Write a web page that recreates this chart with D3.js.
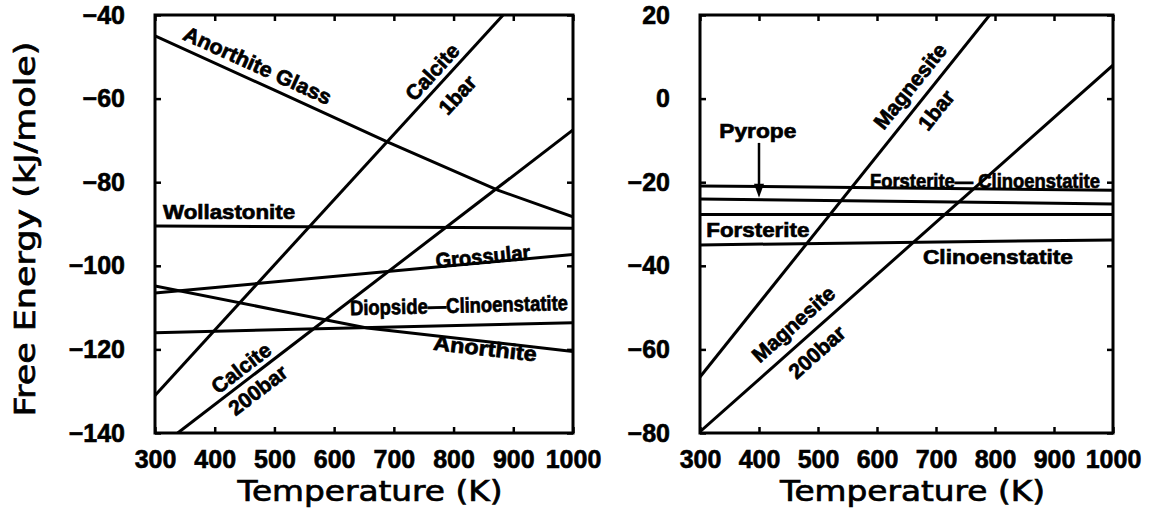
<!DOCTYPE html>
<html>
<head>
<meta charset="utf-8">
<script src="https://cdn.jsdelivr.net/npm/d3@7"></script>
<style>
  body { margin: 0; background: #fff; }
  .tick text { font-family: "Liberation Sans", Arial, sans-serif; font-weight: bold; font-size: 25px; fill: #000; stroke: #000; stroke-width: 0.6px; }
  .note { font-family: "Liberation Sans", Arial, sans-serif; font-weight: bold; font-size: 21px; fill: #000; stroke: #000; stroke-width: 0.7px; }
  .title { font-family: "DejaVu Sans", sans-serif; font-size: 28px; fill: #000; stroke: #000; stroke-width: 0.7px; }
</style>
</head>
<body>
<div id="chart"></div>
<script>
// Canvas size
var width = 1156, height = 516;

// Tick values
var tempTicks = [300, 400, 500, 600, 700, 800, 900, 1000];
var leftTicks = [-140, -120, -100, -80, -60, -40];
var rightTicks = [-80, -60, -40, -20, 0, 20];

// Left panel series, [temperature K, free energy kJ/mole]
var anorthiteGlass = [[300, -45], [500, -58], [690, -70.4], [874, -81.9], [1000, -88.3]];
var calcite1bar = [[300, -131], [883, -40]];
var calcite200bar = [[338, -140], [1000, -67.5]];
var wollastonite = [[300, -90.5], [1000, -91]];
var grossular = [[300, -106.5], [1000, -97.3]];
var anorthite = [[300, -104.8], [500, -110.5], [655, -114.9], [1000, -120.5]];
var diopsideClino = [[300, -116], [1000, -113.6]];

// Right panel series
var forsteriteClino = [[300, -20.9], [1000, -21.9]];
var pyrope = [[300, -24], [1000, -25.2]];
var forsterite = [[300, -27.7], [1000, -27.7]];
var clinoenstatite = [[300, -35], [1000, -33.8]];
var magnesite1bar = [[300, -66.6], [791, 20]];
var magnesite200bar = [[300, -79.7], [1000, 8]];

var svg = d3.select("#chart").append("svg")
    .attr("width", width)
    .attr("height", height);

function drawPanel(p) {
  var x = d3.scaleLinear().domain([300, 1000]).range([p.x0, p.x1]);
  var y = d3.scaleLinear().domain(p.yDomain).range([p.y1, p.y0]);
  var g = svg.append("g");

  g.append("clipPath").attr("id", p.id + "-clip")
    .append("rect")
    .attr("x", p.x0).attr("y", p.y0)
    .attr("width", p.x1 - p.x0).attr("height", p.y1 - p.y0);

  // axes with inward ticks
  g.append("g").attr("transform", "translate(0," + p.y1 + ")")
    .call(d3.axisBottom(x).tickValues(tempTicks).tickSize(-6).tickPadding(17).tickFormat(d3.format("d")));
  g.append("g").attr("transform", "translate(0," + p.y0 + ")")
    .call(d3.axisTop(x).tickValues(tempTicks).tickSize(-6).tickFormat(""));
  g.append("g").attr("transform", "translate(" + p.x0 + ",0)")
    .call(d3.axisLeft(y).tickValues(p.yTicks).tickSize(-6).tickPadding(30)
      .tickFormat(function(d) { return d < 0 ? "\u2212" + Math.abs(d) : d; }));
  g.append("g").attr("transform", "translate(" + p.x1 + ",0)")
    .call(d3.axisRight(y).tickValues(p.yTicks).tickSize(-6).tickFormat(""));
  g.selectAll(".domain").remove();
  g.selectAll(".tick line").attr("stroke", "#000").attr("stroke-width", 2.5);

  // frame
  g.append("rect")
    .attr("x", p.x0).attr("y", p.y0)
    .attr("width", p.x1 - p.x0).attr("height", p.y1 - p.y0)
    .attr("fill", "none").attr("stroke", "#000").attr("stroke-width", 3);

  // curves
  var line = d3.line().x(function(d) { return x(d[0]); }).y(function(d) { return y(d[1]); });
  g.append("g").attr("clip-path", "url(#" + p.id + "-clip)")
    .selectAll("path")
    .data(p.series)
    .enter()
    .append("path")
    .attr("d", line)
    .attr("fill", "none")
    .attr("stroke", "#000")
    .attr("stroke-width", 3);

  // labels, rotated along their curve when asked
  p.notes.forEach(function(n) {
    var px = x(n.t), py = y(n.g), ang = 0;
    if (n.along) {
      var pts = n.along, i = 0;
      while (i < pts.length - 2 && pts[i + 1][0] < n.t) i++;
      ang = Math.atan2(y(pts[i + 1][1]) - y(pts[i][1]), x(pts[i + 1][0]) - x(pts[i][0])) * 180 / Math.PI;
    }
    var t = g.append("text").attr("class", "note")
      .attr("transform", "translate(" + px + "," + py + ") rotate(" + ang + ")")
      .attr("text-anchor", "middle")
      .attr("dy", "0.36em")
      .text(n.text);
    if (n.len) t.attr("textLength", n.len).attr("lengthAdjust", "spacingAndGlyphs");
  });

  // axis titles
  g.append("text").attr("class", "title")
    .attr("x", (p.x0 + p.x1) / 2 + 6).attr("y", 501)
    .attr("text-anchor", "middle")
    .attr("textLength", 265).attr("lengthAdjust", "spacingAndGlyphs")
    .text("Temperature (K)");

  return { x: x, y: y, g: g };
}

var left = drawPanel({
  id: "left", x0: 155, x1: 573, y0: 15, y1: 433,
  yDomain: [-140, -40], yTicks: leftTicks,
  series: [anorthiteGlass, calcite1bar, calcite200bar, wollastonite, grossular, anorthite, diopsideClino],
  notes: [
    { text: "Anorthite Glass", t: 472, g: -52, along: anorthiteGlass, len: 160 },
    { text: "Calcite", t: 764, g: -53.6, along: calcite1bar },
    { text: "1bar", t: 806, g: -59.1, along: calcite1bar },
    { text: "Wollastonite", t: 424, g: -86.9, len: 132 },
    { text: "Grossular", t: 849, g: -97.7, along: grossular, len: 95 },
    { text: "Diopside\u2014Clinoenstatite", t: 809, g: -109.4, along: diopsideClino, len: 218 },
    { text: "Anorthite", t: 853, g: -119.7, along: anorthite, len: 104 },
    { text: "Calcite", t: 444, g: -124.4, along: calcite200bar },
    { text: "200bar", t: 472, g: -129.7, along: calcite200bar }
  ]
});

var right = drawPanel({
  id: "right", x0: 700, x1: 1113, y0: 15, y1: 433,
  yDomain: [-80, 20], yTicks: rightTicks,
  series: [forsteriteClino, pyrope, forsterite, clinoenstatite, magnesite1bar, magnesite200bar],
  notes: [
    { text: "Pyrope", t: 398, g: -7.5, len: 77 },
    { text: "Forsterite\u2014 Clinoenstatite", t: 783, g: -19.5, len: 230 },
    { text: "Forsterite", t: 398, g: -31.2, len: 103 },
    { text: "Clinoenstatite", t: 805, g: -37.7, len: 150 },
    { text: "Magnesite", t: 656, g: 3, along: magnesite1bar },
    { text: "1bar", t: 700, g: -2.7, along: magnesite1bar },
    { text: "Magnesite", t: 458, g: -53.9, along: magnesite200bar },
    { text: "200bar", t: 498, g: -60.6, along: magnesite200bar }
  ]
});

// Pyrope arrow
var ax = right.x(400), ayTop = right.y(-10.6);
var ayTip = right.y(d3.interpolateNumber(pyrope[0][1], pyrope[1][1])((400 - 300) / 700)) - 2;
right.g.append("line")
  .attr("x1", ax).attr("x2", ax)
  .attr("y1", ayTop).attr("y2", ayTip - 10)
  .attr("stroke", "#000").attr("stroke-width", 2.5);
right.g.append("path")
  .attr("d", "M" + (ax - 5) + "," + (ayTip - 14) + "L" + (ax + 5) + "," + (ayTip - 14) + "L" + ax + "," + ayTip + "Z")
  .attr("fill", "#000");

// Y axis title
svg.append("text").attr("class", "title")
  .attr("transform", "translate(35,229) rotate(-90)")
  .attr("text-anchor", "middle")
  .attr("textLength", 375).attr("lengthAdjust", "spacingAndGlyphs")
  .text("Free Energy (kJ/mole)");
</script>
</body>
</html>
